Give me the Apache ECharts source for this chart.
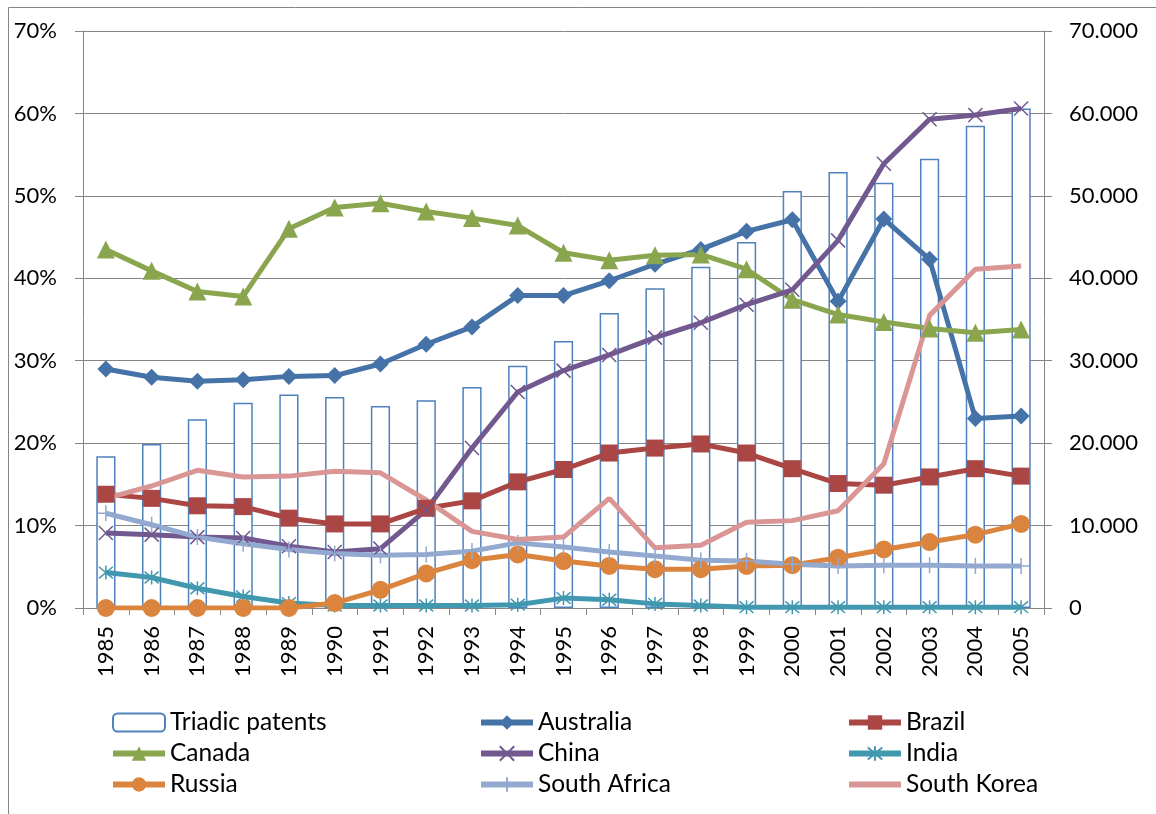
<!DOCTYPE html>
<html>
<head>
<meta charset="utf-8">
<script src="https://cdn.jsdelivr.net/npm/echarts@6/dist/echarts.min.js"></script>
<style>
html,body{margin:0;padding:0;background:#fff;}
#chart{width:1156px;height:814px;}
</style>
</head>
<body>
<div id="chart"></div>
<script>
var years = ['1985','1986','1987','1988','1989','1990','1991','1992','1993','1994','1995','1996','1997','1998','1999','2000','2001','2002','2003','2004','2005'];
var triadicPatents = [18400,19900,22900,24900,25900,25600,24500,25200,26800,29400,32400,35800,38800,41400,44400,50600,52900,51600,54500,58500,60600];
var australia = [29.0,28.0,27.5,27.7,28.1,28.2,29.6,32.0,34.1,37.9,37.9,39.7,41.7,43.5,45.7,47.1,37.2,47.2,42.3,23.0,23.3];
var brazil = [13.8,13.3,12.4,12.3,10.9,10.2,10.2,12.1,13.0,15.3,16.8,18.8,19.4,19.9,18.8,16.9,15.1,14.9,15.9,16.9,16.0];
var canada = [43.5,40.9,38.4,37.8,46.0,48.6,49.1,48.1,47.3,46.4,43.1,42.2,42.8,42.9,41.1,37.4,35.6,34.7,33.9,33.4,33.8];
var china = [9.1,8.9,8.6,8.5,7.5,6.8,7.2,11.9,19.4,26.2,28.8,30.7,32.8,34.6,36.8,38.6,44.6,53.9,59.3,59.8,60.6];
var india = [4.3,3.7,2.4,1.4,0.6,0.3,0.3,0.3,0.3,0.4,1.2,1.0,0.5,0.3,0.1,0.1,0.1,0.1,0.1,0.1,0.1];
var russia = [0,0,0,0,0,0.6,2.2,4.2,5.8,6.5,5.7,5.1,4.7,4.7,5.1,5.2,6.1,7.1,8.0,8.9,10.2];
var southAfrica = [11.5,10.1,8.6,7.8,7.1,6.6,6.4,6.5,6.9,7.9,7.4,6.8,6.3,5.8,5.7,5.3,5.1,5.2,5.2,5.1,5.1];
var southKorea = [13.3,14.8,16.7,15.9,16.0,16.6,16.4,13.1,9.3,8.3,8.6,13.3,7.3,7.6,10.4,10.6,11.8,17.5,35.5,41.1,41.5];
var leftTicks = {min:0, max:70, interval:10};
var rightTicks = {min:0, max:70000, interval:10000};

var FONT = 'Lato';
var gray = '#868686';

var chart = echarts.init(document.getElementById('chart'));

function lineSeries(name, data, color, symbol, size, extra) {
  var s = {
    name: name, type: 'line', data: data, yAxisIndex: 0,
    symbol: symbol, symbolSize: size, showAllSymbol: true,
    lineStyle: {color: color, width: 5},
    itemStyle: {color: color},
    emphasis: {disabled: true},
    z: 3
  };
  if (extra) { for (var k in extra) s[k] = extra[k]; }
  return s;
}
var pathX = 'path://M0 0L10 10M10 0L0 10';
var pathStar = 'path://M0 0L10 10M10 0L0 10M5 -1L5 11';
var pathPlus = 'path://M5 0L5 10M0 5L10 5';
var plainLineIcon = 'path://M0 0L0.001 0L0 0.001Z M0 6H52V12H0Z M52 18L51.999 18L52 17.999Z';

var legendBase = {
  orient: 'vertical', itemWidth: 52, itemHeight: 18, itemGap: 6,
  textStyle: {fontFamily: FONT, fontSize: 24.5, color: '#000', lineHeight: 22},
  lineStyle: {width: 6},
  selectedMode: false, top: 705
};
function legend(left, names) {
  var l = {};
  for (var k in legendBase) l[k] = legendBase[k];
  l.left = left; l.data = names;
  return l;
}

chart.setOption({
  animation: false,
  backgroundColor: '#fff',
  graphic: [
    {type: 'line', shape: {x1: 8.5, y1: 7.5, x2: 1160, y2: 7.5}, style: {stroke: gray, lineWidth: 1}},
    {type: 'line', shape: {x1: 8.5, y1: 7.5, x2: 8.5, y2: 820}, style: {stroke: gray, lineWidth: 1}}
  ],
  grid: {left: 83, right: 112, top: 31, bottom: 206, containLabel: false},
  legend: [
    legend(105, ['Triadic patents', 'Canada', 'Russia']),
    legend(473, ['Australia', 'China', 'South Africa']),
    legend(841, ['Brazil', 'India', {name: 'South Korea', icon: plainLineIcon}])
  ],
  xAxis: {
    type: 'category', data: years, boundaryGap: true,
    axisLine: {show: true, lineStyle: {color: gray, width: 1}},
    axisTick: {show: true, length: 7, lineStyle: {color: gray}},
    axisLabel: {rotate: 90, margin: 18, fontFamily: FONT, fontSize: 22, color: '#000', interval: 0}
  },
  yAxis: [
    {
      type: 'value', min: leftTicks.min, max: leftTicks.max, interval: leftTicks.interval,
      axisLine: {show: true, lineStyle: {color: gray, width: 1}},
      axisTick: {show: true, length: 8, lineStyle: {color: gray}},
      splitLine: {show: true, lineStyle: {color: gray, width: 1}},
      axisLabel: {margin: 26, fontFamily: FONT, fontSize: 22, color: '#000', formatter: function(v){return v + '%';}}
    },
    {
      type: 'value', min: rightTicks.min, max: rightTicks.max, interval: rightTicks.interval, position: 'right',
      axisLine: {show: true, lineStyle: {color: gray, width: 1}},
      axisTick: {show: true, length: 8, lineStyle: {color: gray}},
      splitLine: {show: false},
      axisLabel: {margin: 25, fontFamily: FONT, fontSize: 22, color: '#000',
        formatter: function(v){ return v === 0 ? '0' : (v/1000).toFixed(3); }}
    }
  ],
  series: [
    {
      name: 'Triadic patents', type: 'bar', yAxisIndex: 1, data: triadicPatents,
      barWidth: '42%',
      itemStyle: {color: '#ffffff', borderColor: '#4F81BD', borderWidth: 1.5},
      emphasis: {disabled: true}, z: 2
    },
    lineSeries('Australia', australia, '#4572A7', 'diamond', 17),
    lineSeries('Brazil', brazil, '#AA4643', 'rect', 17),
    lineSeries('Canada', canada, '#89A54E', 'triangle', 18),
    lineSeries('China', china, '#71588F', pathX, 14, {itemStyle: {color: '#71588F', borderColor: '#71588F', borderWidth: 1.5}}),
    lineSeries('India', india, '#4198AF', pathStar, 14, {itemStyle: {color: '#4198AF', borderColor: '#4198AF', borderWidth: 1.5}}),
    lineSeries('Russia', russia, '#DB843D', 'circle', 18),
    lineSeries('South Africa', southAfrica, '#93A9CF', pathPlus, 16, {itemStyle: {color: '#93A9CF', borderColor: '#93A9CF', borderWidth: 1.5}}),
    lineSeries('South Korea', southKorea, '#D99694', 'none', 0)
  ]
});
</script>
</body>
</html>
